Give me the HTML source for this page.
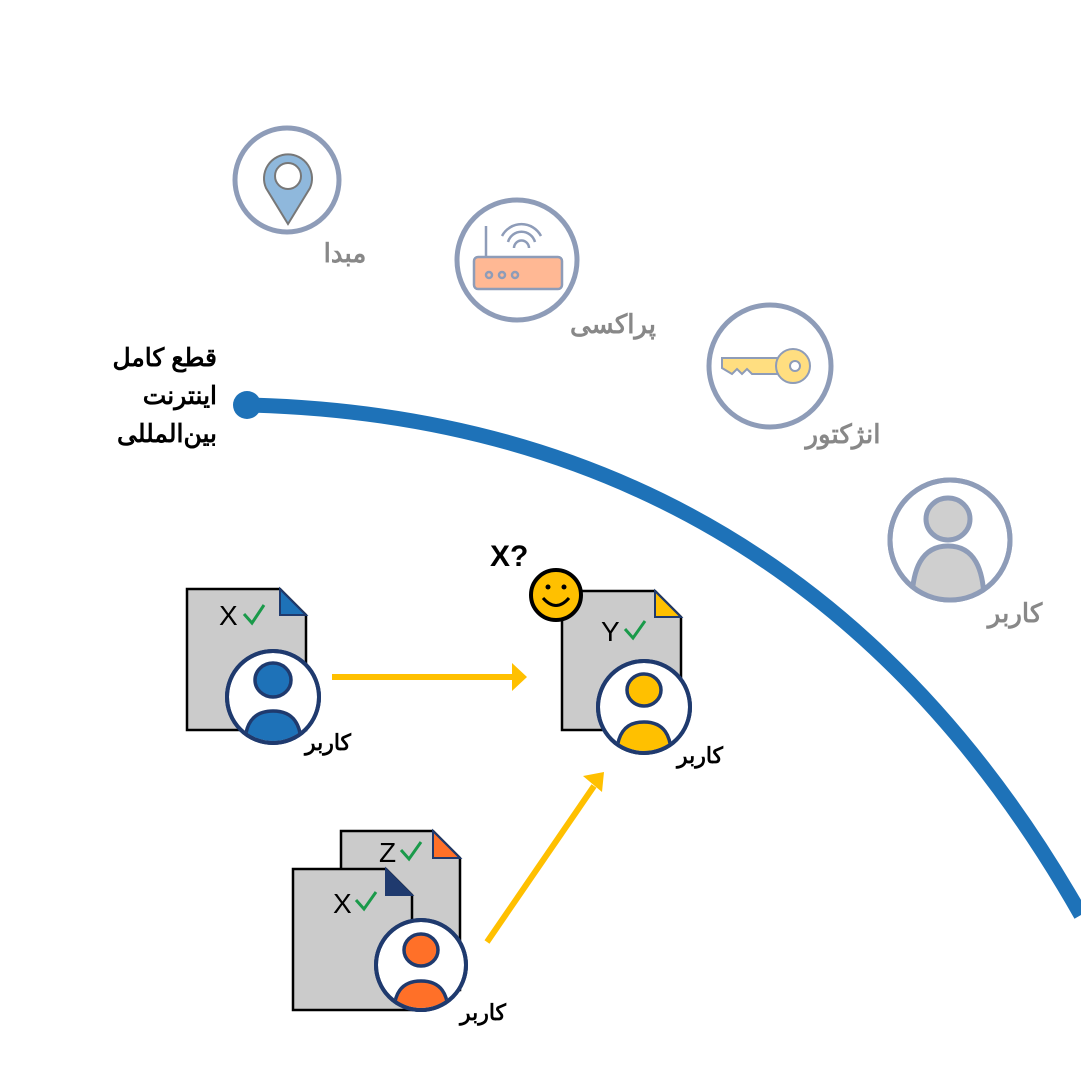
<!DOCTYPE html>
<html><head><meta charset="utf-8"><style>
html,body{margin:0;padding:0;background:#fff;width:1081px;height:1081px;overflow:hidden}
text{font-family:"Liberation Sans","Noto Sans CJK SC",sans-serif}
</style></head><body>
<svg width="1081" height="1081" viewBox="0 0 1081 1081" xmlns="http://www.w3.org/2000/svg">
<defs>
<clipPath id="c1"><circle cx="273" cy="697" r="44"/></clipPath>
<clipPath id="c2"><circle cx="644" cy="707" r="44"/></clipPath>
<clipPath id="c3"><circle cx="421" cy="965" r="43"/></clipPath>
<clipPath id="c4"><circle cx="950" cy="540" r="58"/></clipPath>
</defs>
<path d="M250 405 Q800 420 1081 915" fill="none" stroke="#1e72b8" stroke-width="15"/>
<circle cx="247" cy="405" r="14" fill="#1e72b8"/>
<g font-weight="bold" font-size="25" fill="#000" text-anchor="end">
<text x="217" y="366">قطع کامل</text>
<text x="217" y="404">اینترنت</text>
<text x="217" y="442">بین‌المللی</text>
</g>

<g fill="#fff" stroke="#8e9cb8" stroke-width="5">
<circle cx="287" cy="180" r="52"/>
<circle cx="517" cy="260" r="60"/>
<circle cx="770" cy="366" r="61"/>
<circle cx="950" cy="540" r="60"/>
</g>
<path d="M288 224 L266 188 A24 24 0 1 1 310 188 Z" fill="#8fb8dc" stroke="#777" stroke-width="2"/>
<circle cx="288" cy="176" r="13" fill="#fff" stroke="#777" stroke-width="2"/>
<rect x="474" y="257" width="88" height="32" rx="4" fill="#ffb894" stroke="#8e9cb8" stroke-width="2.5"/>
<line x1="486" y1="226" x2="486" y2="257" stroke="#8e9cb8" stroke-width="2.5"/>
<g fill="none" stroke="#8e9cb8" stroke-width="2.5">
<path d="M502 236 A22 22 0 0 1 541 236"/><path d="M508 242 A14 14 0 0 1 535 242"/><path d="M514 248 A7 7 0 0 1 529 248"/>
<circle cx="489" cy="275" r="3"/><circle cx="502" cy="275" r="3"/><circle cx="515" cy="275" r="3"/>
</g>
<path d="M722 358 L782 358 L787 366 L782 374 L752 374 L747 369 L742 374 L737 369 L732 374 L722 368 Z" fill="#ffde80" stroke="#8e9cb8" stroke-width="2"/>
<circle cx="793" cy="366" r="17" fill="#ffde80" stroke="#8e9cb8" stroke-width="2"/>
<circle cx="795" cy="366" r="5" fill="#fff" stroke="#8e9cb8" stroke-width="2"/>
<g clip-path="url(#c4)">
<ellipse cx="948" cy="519" rx="22" ry="21" fill="#cfcfcf" stroke="#8e9cb8" stroke-width="5"/>
<path d="M912 610 Q910 546 948 546 Q986 546 984 610 Z" fill="#cfcfcf" stroke="#8e9cb8" stroke-width="5"/>
</g>
<circle cx="950" cy="540" r="60" fill="none" stroke="#8e9cb8" stroke-width="5"/>
<g font-size="26" font-weight="bold" fill="#888" text-anchor="middle">
<text x="345" y="262">مبدا</text>
<text x="613" y="333">پراکسی</text>
<text x="843" y="443">انژکتور</text>
<text x="1015" y="622">کاربر</text>
</g>

<line x1="332" y1="677" x2="512" y2="677" stroke="#ffc000" stroke-width="6"/>
<polygon points="512,663 527,677 512,691" fill="#ffc000"/>
<line x1="487" y1="942" x2="594" y2="786" stroke="#ffc000" stroke-width="6"/>
<polygon points="583,776 604,772 602,792" fill="#ffc000"/>

<path d="M187 589 L280 589 L306 615 L306 730 L187 730 Z" fill="#cbcbcb" stroke="#000" stroke-width="2.5"/>
<path d="M280 589 L306 615 L280 615 Z" fill="#1e72b8" stroke="#1f3a6e" stroke-width="2"/>
<text x="219" y="625" font-size="28" fill="#000">X</text>
<path d="M244 614 L252 623 L264 605" fill="none" stroke="#1a9a4a" stroke-width="3"/>
<circle cx="273" cy="697" r="46" fill="#fff" stroke="#1f3a6e" stroke-width="4"/>
<g clip-path="url(#c1)">
<ellipse cx="273" cy="680" rx="18" ry="17" fill="#1e72b8" stroke="#1f3a6e" stroke-width="3.5"/>
<path d="M245 750 Q243 711 273 711 Q303 711 301 750 Z" fill="#1e72b8" stroke="#1f3a6e" stroke-width="3.5"/>
</g>
<circle cx="273" cy="697" r="46" fill="none" stroke="#1f3a6e" stroke-width="4"/>
<text x="328" y="750" font-size="22" font-weight="bold" text-anchor="middle">کاربر</text>

<path d="M562 591 L655 591 L681 617 L681 730 L562 730 Z" fill="#cbcbcb" stroke="#000" stroke-width="2.5"/>
<path d="M655 591 L681 617 L655 617 Z" fill="#ffc000" stroke="#1f3a6e" stroke-width="2"/>
<text x="601" y="641" font-size="28" fill="#000">Y</text>
<path d="M625 629 L633 638 L645 621" fill="none" stroke="#1a9a4a" stroke-width="3"/>
<circle cx="644" cy="707" r="46" fill="#fff" stroke="#1f3a6e" stroke-width="4"/>
<g clip-path="url(#c2)">
<ellipse cx="644" cy="690" rx="17" ry="16" fill="#ffc000" stroke="#1f3a6e" stroke-width="3.5"/>
<path d="M617 760 Q615 722 644 722 Q673 722 671 760 Z" fill="#ffc000" stroke="#1f3a6e" stroke-width="3.5"/>
</g>
<circle cx="644" cy="707" r="46" fill="none" stroke="#1f3a6e" stroke-width="4"/>
<text x="700" y="763" font-size="22" font-weight="bold" text-anchor="middle">کاربر</text>
<circle cx="556" cy="595" r="25" fill="#ffc000" stroke="#000" stroke-width="4"/>
<circle cx="548" cy="587" r="2.5" fill="#000"/><circle cx="564" cy="587" r="2.5" fill="#000"/>
<path d="M543 598 Q556 613 569 598" fill="none" stroke="#000" stroke-width="3"/>
<text x="490" y="566" font-size="30" font-weight="bold">X?</text>

<path d="M341 831 L433 831 L460 858 L460 990 L341 990 Z" fill="#cbcbcb" stroke="#000" stroke-width="2.5"/>
<path d="M433 831 L460 858 L433 858 Z" fill="#ff7028" stroke="#1f3a6e" stroke-width="2"/>
<text x="379" y="862" font-size="28">Z</text>
<path d="M401 850 L409 859 L421 842" fill="none" stroke="#1a9a4a" stroke-width="3"/>
<path d="M293 869 L386 869 L412 895 L412 1010 L293 1010 Z" fill="#cbcbcb" stroke="#000" stroke-width="2.5"/>
<path d="M386 869 L412 895 L386 895 Z" fill="#1f3a6e" stroke="#1f3a6e" stroke-width="2"/>
<text x="333" y="913" font-size="28">X</text>
<path d="M356 900 L364 909 L376 892" fill="none" stroke="#1a9a4a" stroke-width="3"/>
<circle cx="421" cy="965" r="45" fill="#fff" stroke="#1f3a6e" stroke-width="4"/>
<g clip-path="url(#c3)">
<ellipse cx="421" cy="950" rx="17" ry="16" fill="#ff7028" stroke="#1f3a6e" stroke-width="3.5"/>
<path d="M394 1018 Q392 981 421 981 Q450 981 448 1018 Z" fill="#ff7028" stroke="#1f3a6e" stroke-width="3.5"/>
</g>
<circle cx="421" cy="965" r="45" fill="none" stroke="#1f3a6e" stroke-width="4"/>
<text x="483" y="1020" font-size="22" font-weight="bold" text-anchor="middle">کاربر</text>
</svg>
</body></html>
